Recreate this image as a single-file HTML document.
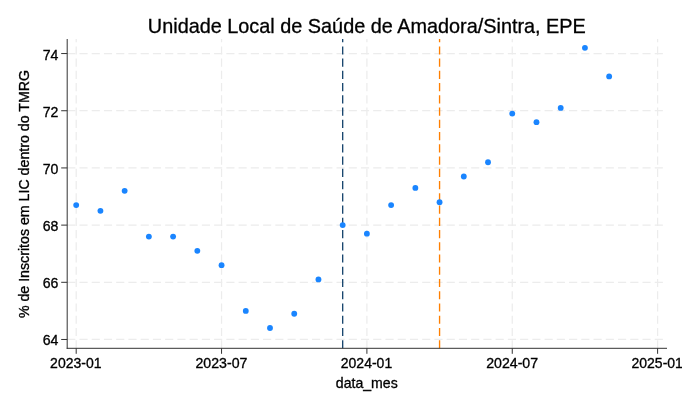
<!DOCTYPE html>
<html lang="pt"><head><meta charset="utf-8"><title>Unidade Local de Saúde de Amadora/Sintra, EPE</title>
<style>html,body{margin:0;padding:0;background:#fff;overflow:hidden}svg{display:block}text{font-family:"Liberation Sans",sans-serif;fill:#000;stroke:#000;stroke-width:0.32px}</style>
</head><body>
<svg width="682" height="408" viewBox="0 0 682 408">
<rect width="682" height="408" fill="#fff"/>
<g stroke="#ececec" stroke-width="1.25" stroke-dasharray="8.16 4.08" fill="none">
<line x1="67.2" y1="339.48" x2="667.0" y2="339.48"/>
<line x1="67.2" y1="282.30" x2="667.0" y2="282.30"/>
<line x1="67.2" y1="225.11" x2="667.0" y2="225.11"/>
<line x1="67.2" y1="167.93" x2="667.0" y2="167.93"/>
<line x1="67.2" y1="110.74" x2="667.0" y2="110.74"/>
<line x1="67.2" y1="53.56" x2="667.0" y2="53.56"/>
<line x1="76.20" y1="348.3" x2="76.20" y2="39.0"/>
<line x1="221.55" y1="348.3" x2="221.55" y2="39.0"/>
<line x1="366.90" y1="348.3" x2="366.90" y2="39.0"/>
<line x1="512.25" y1="348.3" x2="512.25" y2="39.0"/>
<line x1="657.60" y1="348.3" x2="657.60" y2="39.0"/>
</g>
<line x1="342.68" y1="348.3" x2="342.68" y2="39.0" stroke="#1a476f" stroke-width="1.35" stroke-dasharray="8.16 4.08"/>
<line x1="439.57" y1="348.3" x2="439.57" y2="39.0" stroke="#ff7f00" stroke-width="1.35" stroke-dasharray="8.16 4.08"/>
<g fill="#1a85ff">
<circle cx="76.20" cy="205.10" r="2.92"/>
<circle cx="100.43" cy="210.82" r="2.92"/>
<circle cx="124.65" cy="190.80" r="2.92"/>
<circle cx="148.88" cy="236.55" r="2.92"/>
<circle cx="173.10" cy="236.55" r="2.92"/>
<circle cx="197.32" cy="250.84" r="2.92"/>
<circle cx="221.55" cy="265.14" r="2.92"/>
<circle cx="245.78" cy="310.89" r="2.92"/>
<circle cx="270.00" cy="328.04" r="2.92"/>
<circle cx="294.23" cy="313.75" r="2.92"/>
<circle cx="318.45" cy="279.44" r="2.92"/>
<circle cx="342.68" cy="225.11" r="2.92"/>
<circle cx="366.90" cy="233.69" r="2.92"/>
<circle cx="391.12" cy="205.10" r="2.92"/>
<circle cx="415.35" cy="187.94" r="2.92"/>
<circle cx="439.57" cy="202.24" r="2.92"/>
<circle cx="463.80" cy="176.51" r="2.92"/>
<circle cx="488.03" cy="162.21" r="2.92"/>
<circle cx="512.25" cy="113.60" r="2.92"/>
<circle cx="536.48" cy="122.18" r="2.92"/>
<circle cx="560.70" cy="107.88" r="2.92"/>
<circle cx="584.93" cy="47.84" r="2.92"/>
<circle cx="609.15" cy="76.43" r="2.92"/>
</g>
<g stroke="#333" stroke-width="1" fill="none">
<line x1="67.2" y1="39.0" x2="67.2" y2="348.8"/>
<line x1="66.7" y1="348.3" x2="667.0" y2="348.3"/>
<line x1="61.2" y1="339.48" x2="67.2" y2="339.48"/>
<line x1="61.2" y1="282.30" x2="67.2" y2="282.30"/>
<line x1="61.2" y1="225.11" x2="67.2" y2="225.11"/>
<line x1="61.2" y1="167.93" x2="67.2" y2="167.93"/>
<line x1="61.2" y1="110.74" x2="67.2" y2="110.74"/>
<line x1="61.2" y1="53.56" x2="67.2" y2="53.56"/>
<line x1="76.20" y1="348.3" x2="76.20" y2="353.8"/>
<line x1="221.55" y1="348.3" x2="221.55" y2="353.8"/>
<line x1="366.90" y1="348.3" x2="366.90" y2="353.8"/>
<line x1="512.25" y1="348.3" x2="512.25" y2="353.8"/>
<line x1="657.60" y1="348.3" x2="657.60" y2="353.8"/>
</g>
<g font-size="14.1" text-anchor="end">
<text x="58.35" y="60">74</text>
<text x="58.35" y="117">72</text>
<text x="58.35" y="174">70</text>
<text x="58.35" y="231">68</text>
<text x="58.35" y="288">66</text>
<text x="58.35" y="345">64</text>
</g>
<g font-size="14.1" text-anchor="middle">
<text x="75.80" y="368.15" font-size="14">2023-01</text>
<text x="221.45" y="368.15" font-size="14.15">2023-07</text>
<text x="366.50" y="368.15" font-size="14">2024-01</text>
<text x="512.15" y="368.15" font-size="14.15">2024-07</text>
<text x="657.20" y="368.15" font-size="14">2025-01</text>
<text x="366.8" y="387.5">data_mes</text>
<text transform="translate(29 194.05) rotate(-90)" font-size="14.2">% de Inscritos em LIC dentro do TMRG</text>
</g>
<text x="366.85" y="33.3" font-size="19.85" text-anchor="middle" style="stroke-width:0.3px">Unidade Local de Saúde de Amadora/Sintra, EPE</text>
</svg></body></html>
